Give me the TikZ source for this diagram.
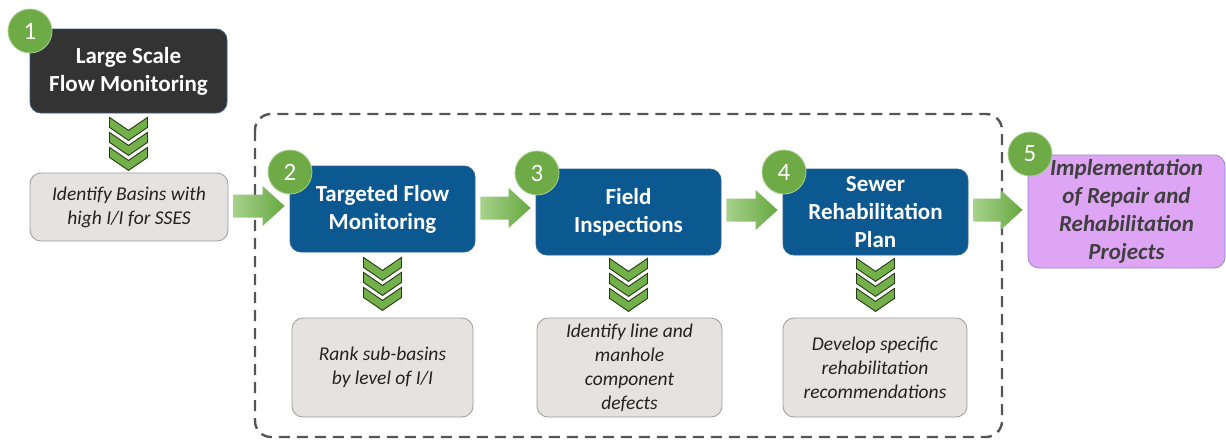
\documentclass[tikz,border=0pt]{standalone}
\usepackage{fontspec}
\setmainfont{Carlito}
\usetikzlibrary{calc}
\definecolor{darkbox}{HTML}{333333}
\definecolor{darkline}{HTML}{3E5A78}
\definecolor{bluebox}{HTML}{0C5891}
\definecolor{blueline}{HTML}{2B6496}
\definecolor{violetbox}{HTML}{DFA5F5}
\definecolor{violetline}{HTML}{8C86D6}
\definecolor{violettext}{HTML}{3F3F3F}
\definecolor{grayfill}{HTML}{E4E3E1}
\definecolor{grayline}{HTML}{9C9C9C}
\definecolor{graytext}{HTML}{222222}
\definecolor{numgreen}{HTML}{6EAA46}
\definecolor{numline}{HTML}{A8D08E}
\definecolor{arrowL}{HTML}{A7D28C}
\definecolor{arrowR}{HTML}{66A840}
\definecolor{chevgreen}{HTML}{74B04A}
\definecolor{chevline}{HTML}{243A15}
\definecolor{dashgray}{HTML}{555555}
\newcommand\fatarrow[3]{%
  \shade[left color=arrowL, right color=arrowR]
    let \p1=($(#1)+(5,#3)$), \p2=($(#2)+(-5,#3)$) in
    (\x1,\y1-11.5) -- (\x2-22,\y1-11.5) -- (\x2-22,\y1-20) -- (\x2,\y1)
    -- (\x2-22,\y1+20) -- (\x2-22,\y1+11.5) -- (\x1,\y1+11.5) -- cycle;}
\newcommand\chevstack[1]{%
  \begin{scope}[shift={#1}]
    \foreach \k in {0,1,2}{
      \filldraw[fill=chevgreen, draw=chevline, line width=0.9pt]
        (-19,15*\k) -- (0,15*\k+13) -- (19,15*\k) -- (19,15*\k+10)
        -- (0,15*\k+23) -- (-19,15*\k+10) -- cycle;}
  \end{scope}}
\begin{document}
\begin{tikzpicture}[x=1pt,y=-1pt,
  stepbox/.style={rounded corners=11pt, align=center, inner sep=0pt,
    font=\fontsize{23}{28}\selectfont\bfseries, text=white, line width=0.8pt},
  darkstep/.style={stepbox, fill=darkbox, draw=darkline},
  bluestep/.style={stepbox, fill=bluebox, draw=blueline},
  finalstep/.style={stepbox, fill=violetbox, draw=violetline, text=violettext,
    font=\fontsize{23}{28}\selectfont\bfseries\itshape},
  notebox/.style={rounded corners=11pt, align=center, inner sep=0pt,
    fill=grayfill, draw=grayline, line width=0.8pt, text=graytext,
    font=\fontsize{19.5}{24}\selectfont\itshape},
  numdot/.style={circle, minimum size=44pt, inner sep=0pt, fill=numgreen,
    draw=numline, line width=0.8pt, text=white, font=\fontsize{25}{25}\selectfont},
  groupframe/.style={draw=dashgray, line width=2.4pt, dash pattern=on 11pt off 7pt,
    rounded corners=16pt}
]
\useasboundingbox (0,0) rectangle (1226,442);
% dashed group frame
\draw[groupframe] (255,114) rectangle (1002,437);
% boxes
\node[darkstep, minimum width=197pt, minimum height=84pt] (s1) at (128.5,71) {Large Scale\\Flow Monitoring};
\node[notebox, minimum width=198pt, minimum height=68pt] (n1) at (129,207) {Identify Basins with\\high I/I for SSES};
\node[bluestep, minimum width=185pt, minimum height=86pt] (s2) at (382.5,209) {Targeted Flow\\Monitoring};
\node[bluestep, minimum width=185pt, minimum height=86pt] (s3) at (628.5,212) {Field\\Inspections};
\node[bluestep, minimum width=185pt, minimum height=86pt] (s4) at (875.5,212) {Sewer\\Rehabilitation\\Plan};
\node[finalstep, minimum width=197pt, minimum height=113pt] (s5) at (1126.5,211.5) {Implementation\\of Repair and\\Rehabilitation\\Projects};
\node[notebox, minimum width=181pt, minimum height=99pt] (n2) at (382.5,367.5) {Rank sub-basins\\by level of I/I};
\node[notebox, minimum width=185pt, minimum height=99pt] (n3) at (629.5,367.5) {Identify line and\\manhole\\component\\defects};
\node[notebox, minimum width=184pt, minimum height=99pt] (n4) at (875,367.5) {Develop specific\\rehabilitation\\recommendations};
% arrows
\fatarrow{n1.east}{s2.west}{-1}
\fatarrow{s2.east}{s3.west}{-1}
\fatarrow{s3.east}{s4.west}{-2}
\fatarrow{s4.east}{s5.west}{-2}
% chevrons
\chevstack{($(s1.south)+(0,4)$)}
\chevstack{($(s2.south)+(0,5)$)}
\chevstack{($(s3.south)+(0,3)$)}
\chevstack{($(s4.south)+(0,3)$)}
% number badges
\node[numdot] (b1) at (30,31) {1};
\node[numdot] (b2) at (290,172) {2};
\node[numdot] (b3) at (537,173) {3};
\node[numdot] (b4) at (784,172) {4};
\node[numdot] (b5) at (1030,154) {5};
\end{tikzpicture}
\end{document}
